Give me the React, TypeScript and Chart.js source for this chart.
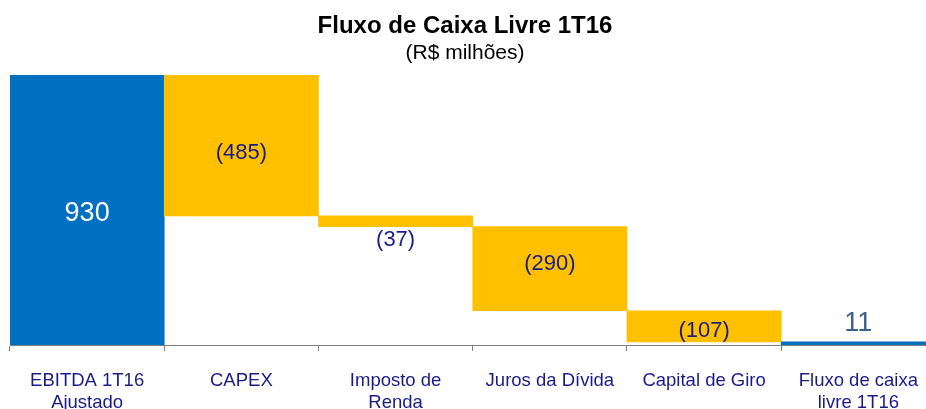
import React, { useEffect, useRef } from "react";
import { Chart, registerables } from "chart.js";

Chart.register(...registerables);

const categories: (string | string[])[] = [
  ["EBITDA 1T16", "Ajustado"],
  "CAPEX",
  ["Imposto de", "Renda"],
  "Juros da Dívida",
  "Capital de Giro",
  ["Fluxo de caixa", "livre 1T16"],
];
const values: number[] = [930, -485, -37, -290, -107, 11];
const kinds: string[] = ["total", "delta", "delta", "delta", "delta", "total"];
const labelPlacement: string[] = ["center", "center", "below", "center", "center", "above"];

const TITLE = "Fluxo de Caixa Livre 1T16";
const SUBTITLE = "(R$ milhões)";

const FONT = "'Liberation Sans', Arial, sans-serif";
const BLUE = "#0070C0";
const YELLOW = "#FFC000";
const NAVY = "#1A1A88";
// small vertical nudges (px) of the value labels, a style setting
const LABEL_NUDGE = [4, 8, 1, -5, 5, 2];

function buildBars(): [number, number][] {
  let cum = 0;
  return values.map((v, i) => {
    if (kinds[i] === "total") {
      cum = v;
      return [0, v];
    }
    const start = cum;
    cum += v;
    return [start, cum];
  });
}

function fmt(v: number): string {
  return v < 0 ? `(${Math.abs(v)})` : `${v}`;
}

const labelPlugin = {
  id: "wfLabels",
  afterDatasetsDraw(chart: any) {
    const ctx = chart.ctx;
    const meta = chart.getDatasetMeta(0);
    ctx.save();
    ctx.textAlign = "center";
    ctx.textBaseline = "middle";
    meta.data.forEach((el: any, i: number) => {
      const top = Math.min(el.y, el.base);
      const bottom = Math.max(el.y, el.base);
      const v = values[i];
      let y = (top + bottom) / 2;
      if (labelPlacement[i] === "below") y = bottom + 12;
      if (labelPlacement[i] === "above") y = top - 20;
      y += LABEL_NUDGE[i] || 0;
      let color = NAVY;
      let size = 22;
      if (kinds[i] === "total") {
        size = 27;
        color = labelPlacement[i] === "center" ? "#FFFFFF" : "#3F5F8F";
      }
      ctx.fillStyle = color;
      ctx.font = `${size}px ${FONT}`;
      ctx.fillText(fmt(v), el.x, y);
    });
    ctx.restore();
  },
};

const titlePlugin = {
  id: "wfTitle",
  afterDraw(chart: any) {
    const ctx = chart.ctx;
    ctx.save();
    ctx.textAlign = "center";
    ctx.textBaseline = "middle";
    ctx.fillStyle = "#000000";
    ctx.font = `bold 24px ${FONT}`;
    ctx.fillText(TITLE, 465, 26);
    ctx.font = `21px ${FONT}`;
    ctx.fillText(SUBTITLE, 465, 53);
    ctx.restore();
  },
};

export default function App() {
  const ref = useRef<HTMLCanvasElement | null>(null);

  useEffect(() => {
    if (!ref.current) return;
    const bars = buildBars();
    const chart = new Chart(ref.current, {
      type: "bar",
      data: {
        labels: categories as any,
        datasets: [
          {
            data: bars as any,
            backgroundColor: kinds.map((k) => (k === "total" ? BLUE : YELLOW)),
            borderWidth: 0,
            barPercentage: 1,
            categoryPercentage: 1,
          },
        ],
      },
      options: {
        responsive: false,
        animation: false,
        layout: { padding: { top: 75, left: 10, right: 0, bottom: 0 } },
        plugins: {
          legend: { display: false },
          title: { display: false },
          tooltip: { enabled: false },
        },
        scales: {
          x: {
            grid: {
              display: true,
              drawOnChartArea: false,
              drawTicks: true,
              tickLength: 6,
              color: "#808080",
              offset: true,
            },
            border: { display: true, color: "#808080", width: 1 },
            ticks: {
              color: NAVY,
              font: { family: FONT, size: 18.5, lineHeight: 1.2 },
              padding: 19,
              maxRotation: 0,
              autoSkip: false,
            },
            afterFit: (s: any) => {
              s.height = 64;
            },
          },
          y: {
            display: false,
            min: 0,
            max: 930,
          },
        },
      },
      plugins: [labelPlugin, titlePlugin],
    });
    return () => chart.destroy();
  }, []);

  return (
    <div
      style={{
        position: "fixed",
        left: 0,
        top: 0,
        width: 926,
        height: 409,
        overflow: "hidden",
        background: "#fff",
      }}
    >
      <canvas ref={ref} width={937} height={409} style={{ width: 937, height: 409, display: "block" }} />
    </div>
  );
}
